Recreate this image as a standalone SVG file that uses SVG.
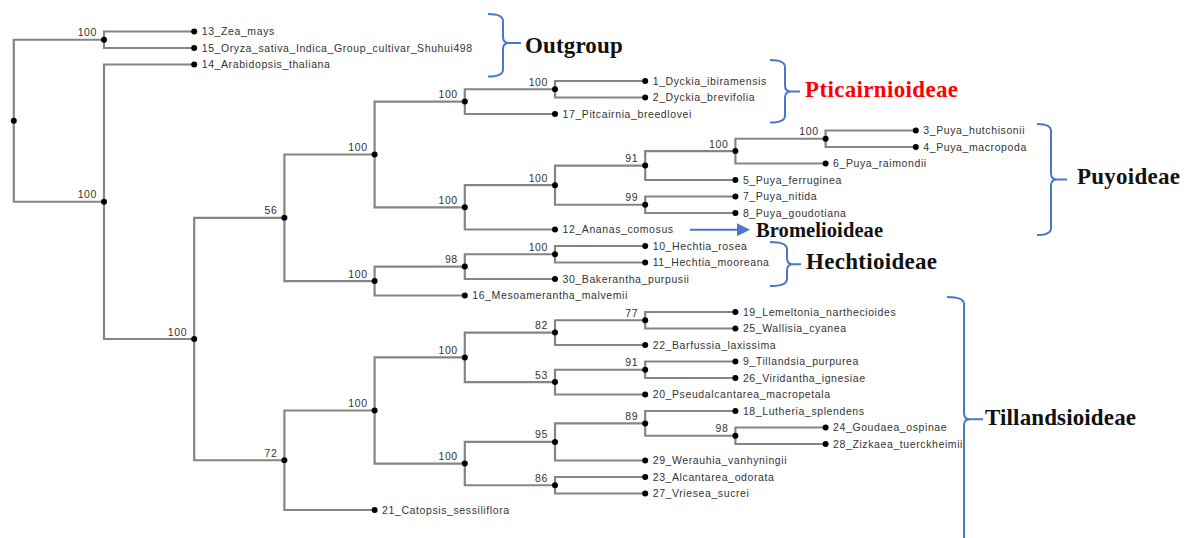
<svg xmlns="http://www.w3.org/2000/svg" width="1191" height="538" viewBox="0 0 1191 538">
  <style>
    .br { fill: none; stroke: #858585; stroke-width: 2.2; }
    .dot { fill: #000; }
    .tx { font-family: "Liberation Sans", Arial, sans-serif; font-size: 10.5px; letter-spacing: 0.6px; fill: #333; }
    .bs { text-anchor: end; }
    .brace { fill: none; stroke: #4a78c8; stroke-width: 2; }
    .clade { font-family: "Liberation Serif", "Times New Roman", serif; font-weight: bold; font-size: 23px; fill: #111; }
  </style>
  <defs>
    <marker id="arrowhead" viewBox="0 0 10 10" refX="0" refY="5" markerWidth="13" markerHeight="13" markerUnits="userSpaceOnUse" orient="auto">
      <path d="M0,0 L10,5 L0,10 Z" fill="#4a78c8"/>
    </marker>
  </defs>
  <rect width="1191" height="538" fill="#fff"/>

  <!-- tree branches -->
  <g id="connectors" class="br">
    <path d="M104,39.75 H13.8 V201.75 H104"/>
    <path d="M194.2,31.5 H104 V48 H194.2"/>
    <path d="M194.2,64.5 H104 V339 H194.2"/>
    <path d="M284.4,217.8 H194.2 V460.25 H284.4"/>
    <path d="M374.6,154.5 H284.4 V281.1 H374.6"/>
    <path d="M464.8,101.6 H374.6 V207.3 H464.8"/>
    <path d="M555,89.25 H464.8 V114 H555"/>
    <path d="M645.2,81 H555 V97.5 H645.2"/>
    <path d="M555,185.2 H464.8 V229.5 H555"/>
    <path d="M645.2,165.6 H555 V204.75 H645.2"/>
    <path d="M735.4,151.1 H645.2 V180 H735.4"/>
    <path d="M825.6,138.75 H735.4 V163.5 H825.6"/>
    <path d="M915.8,130.5 H825.6 V147 H915.8"/>
    <path d="M735.4,196.5 H645.2 V213 H735.4"/>
    <path d="M464.8,266.6 H374.6 V295.5 H464.8"/>
    <path d="M555,254.25 H464.8 V279 H555"/>
    <path d="M645.2,246 H555 V262.5 H645.2"/>
    <path d="M374.6,410.5 H284.4 V510 H374.6"/>
    <path d="M464.8,357.4 H374.6 V463.6 H464.8"/>
    <path d="M555,332.6 H464.8 V382.1 H555"/>
    <path d="M645.2,320.25 H555 V345 H645.2"/>
    <path d="M735.4,312 H645.2 V328.5 H735.4"/>
    <path d="M645.2,369.75 H555 V394.5 H645.2"/>
    <path d="M735.4,361.5 H645.2 V378 H735.4"/>
    <path d="M555,441.9 H464.8 V485.25 H555"/>
    <path d="M645.2,423.4 H555 V460.5 H645.2"/>
    <path d="M735.4,411 H645.2 V435.75 H735.4"/>
    <path d="M825.6,427.5 H735.4 V444 H825.6"/>
    <path d="M645.2,477 H555 V493.5 H645.2"/>
  </g>

  <!-- internal nodes with bootstrap support -->
  <g id="root"><circle class="dot" cx="13.8" cy="120.75" r="3"/></g>
  <g id="n-outgroup"><circle class="dot" cx="104" cy="39.75" r="3"/><text class="tx bs" x="97" y="36.3">100</text></g>
  <g id="n-ingroup"><circle class="dot" cx="104" cy="201.75" r="3"/><text class="tx bs" x="97" y="198.3">100</text></g>
  <g id="n-bromeliaceae"><circle class="dot" cx="194.2" cy="339" r="3"/><text class="tx bs" x="187.2" y="335.5">100</text></g>
  <g id="n-56"><circle class="dot" cx="284.4" cy="217.8" r="3"/><text class="tx bs" x="277.4" y="214.3">56</text></g>
  <g id="n-upper"><circle class="dot" cx="374.6" cy="154.5" r="3"/><text class="tx bs" x="367.6" y="151">100</text></g>
  <g id="n-pitcairnia"><circle class="dot" cx="464.8" cy="101.6" r="3"/><text class="tx bs" x="457.8" y="98.1">100</text></g>
  <g id="n-dyckia"><circle class="dot" cx="555" cy="89.25" r="3"/><text class="tx bs" x="548" y="85.8">100</text></g>
  <g id="n-puya-ananas"><circle class="dot" cx="464.8" cy="207.3" r="3"/><text class="tx bs" x="457.8" y="203.8">100</text></g>
  <g id="n-puya"><circle class="dot" cx="555" cy="185.2" r="3"/><text class="tx bs" x="548" y="181.7">100</text></g>
  <g id="n-puya-91"><circle class="dot" cx="645.2" cy="165.6" r="3"/><text class="tx bs" x="638.2" y="162.1">91</text></g>
  <g id="n-puya-100a"><circle class="dot" cx="735.4" cy="151.1" r="3"/><text class="tx bs" x="728.4" y="147.6">100</text></g>
  <g id="n-puya-100b"><circle class="dot" cx="825.6" cy="138.75" r="3"/><text class="tx bs" x="818.6" y="135.3">100</text></g>
  <g id="n-puya-99"><circle class="dot" cx="645.2" cy="204.75" r="3"/><text class="tx bs" x="638.2" y="201.3">99</text></g>
  <g id="n-lower"><circle class="dot" cx="374.6" cy="281.1" r="3"/><text class="tx bs" x="367.6" y="277.6">100</text></g>
  <g id="n-hechtia-98"><circle class="dot" cx="464.8" cy="266.6" r="3"/><text class="tx bs" x="457.8" y="263.1">98</text></g>
  <g id="n-hechtia"><circle class="dot" cx="555" cy="254.25" r="3"/><text class="tx bs" x="548" y="250.8">100</text></g>
  <g id="n-72"><circle class="dot" cx="284.4" cy="460.25" r="3"/><text class="tx bs" x="277.4" y="456.8">72</text></g>
  <g id="n-till-100c"><circle class="dot" cx="374.6" cy="410.5" r="3"/><text class="tx bs" x="367.6" y="407">100</text></g>
  <g id="n-till-100a"><circle class="dot" cx="464.8" cy="357.4" r="3"/><text class="tx bs" x="457.8" y="353.9">100</text></g>
  <g id="n-till-82"><circle class="dot" cx="555" cy="332.6" r="3"/><text class="tx bs" x="548" y="329.1">82</text></g>
  <g id="n-till-77"><circle class="dot" cx="645.2" cy="320.25" r="3"/><text class="tx bs" x="638.2" y="316.8">77</text></g>
  <g id="n-till-53"><circle class="dot" cx="555" cy="382.1" r="3"/><text class="tx bs" x="548" y="378.6">53</text></g>
  <g id="n-till-91"><circle class="dot" cx="645.2" cy="369.75" r="3"/><text class="tx bs" x="638.2" y="366.3">91</text></g>
  <g id="n-till-100b"><circle class="dot" cx="464.8" cy="463.6" r="3"/><text class="tx bs" x="457.8" y="460.1">100</text></g>
  <g id="n-till-95"><circle class="dot" cx="555" cy="441.9" r="3"/><text class="tx bs" x="548" y="438.4">95</text></g>
  <g id="n-till-89"><circle class="dot" cx="645.2" cy="423.4" r="3"/><text class="tx bs" x="638.2" y="419.9">89</text></g>
  <g id="n-till-98"><circle class="dot" cx="735.4" cy="435.75" r="3"/><text class="tx bs" x="728.4" y="432.3">98</text></g>
  <g id="n-till-86"><circle class="dot" cx="555" cy="485.25" r="3"/><text class="tx bs" x="548" y="481.8">86</text></g>

  <!-- leaves -->
  <g id="leaf-13"><circle class="dot" cx="194.2" cy="31.5" r="3"/><text class="tx" x="201.7" y="35.2">13_Zea_mays</text></g>
  <g id="leaf-15"><circle class="dot" cx="194.2" cy="48" r="3"/><text class="tx" x="201.7" y="51.7">15_Oryza_sativa_Indica_Group_cultivar_Shuhui498</text></g>
  <g id="leaf-14"><circle class="dot" cx="194.2" cy="64.5" r="3"/><text class="tx" x="201.7" y="68.2">14_Arabidopsis_thaliana</text></g>
  <g id="leaf-1"><circle class="dot" cx="645.2" cy="81" r="3"/><text class="tx" x="652.7" y="84.7">1_Dyckia_ibiramensis</text></g>
  <g id="leaf-2"><circle class="dot" cx="645.2" cy="97.5" r="3"/><text class="tx" x="652.7" y="101.2">2_Dyckia_brevifolia</text></g>
  <g id="leaf-17"><circle class="dot" cx="555" cy="114" r="3"/><text class="tx" x="562.5" y="117.7">17_Pitcairnia_breedlovei</text></g>
  <g id="leaf-3"><circle class="dot" cx="915.8" cy="130.5" r="3"/><text class="tx" x="923.3" y="134.2">3_Puya_hutchisonii</text></g>
  <g id="leaf-4"><circle class="dot" cx="915.8" cy="147" r="3"/><text class="tx" x="923.3" y="150.7">4_Puya_macropoda</text></g>
  <g id="leaf-6"><circle class="dot" cx="825.6" cy="163.5" r="3"/><text class="tx" x="833.1" y="167.2">6_Puya_raimondii</text></g>
  <g id="leaf-5"><circle class="dot" cx="735.4" cy="180" r="3"/><text class="tx" x="742.9" y="183.7">5_Puya_ferruginea</text></g>
  <g id="leaf-7"><circle class="dot" cx="735.4" cy="196.5" r="3"/><text class="tx" x="742.9" y="200.2">7_Puya_nitida</text></g>
  <g id="leaf-8"><circle class="dot" cx="735.4" cy="213" r="3"/><text class="tx" x="742.9" y="216.7">8_Puya_goudotiana</text></g>
  <g id="leaf-12"><circle class="dot" cx="555" cy="229.5" r="3"/><text class="tx" x="562.5" y="233.2">12_Ananas_comosus</text></g>
  <g id="leaf-10"><circle class="dot" cx="645.2" cy="246" r="3"/><text class="tx" x="652.7" y="249.7">10_Hechtia_rosea</text></g>
  <g id="leaf-11"><circle class="dot" cx="645.2" cy="262.5" r="3"/><text class="tx" x="652.7" y="266.2">11_Hechtia_mooreana</text></g>
  <g id="leaf-30"><circle class="dot" cx="555" cy="279" r="3"/><text class="tx" x="562.5" y="282.7">30_Bakerantha_purpusii</text></g>
  <g id="leaf-16"><circle class="dot" cx="464.8" cy="295.5" r="3"/><text class="tx" x="472.3" y="299.2">16_Mesoamerantha_malvemii</text></g>
  <g id="leaf-19"><circle class="dot" cx="735.4" cy="312" r="3"/><text class="tx" x="742.9" y="315.7">19_Lemeltonia_narthecioides</text></g>
  <g id="leaf-25"><circle class="dot" cx="735.4" cy="328.5" r="3"/><text class="tx" x="742.9" y="332.2">25_Wallisia_cyanea</text></g>
  <g id="leaf-22"><circle class="dot" cx="645.2" cy="345" r="3"/><text class="tx" x="652.7" y="348.7">22_Barfussia_laxissima</text></g>
  <g id="leaf-9"><circle class="dot" cx="735.4" cy="361.5" r="3"/><text class="tx" x="742.9" y="365.2">9_Tillandsia_purpurea</text></g>
  <g id="leaf-26"><circle class="dot" cx="735.4" cy="378" r="3"/><text class="tx" x="742.9" y="381.7">26_Viridantha_ignesiae</text></g>
  <g id="leaf-20"><circle class="dot" cx="645.2" cy="394.5" r="3"/><text class="tx" x="652.7" y="398.2">20_Pseudalcantarea_macropetala</text></g>
  <g id="leaf-18"><circle class="dot" cx="735.4" cy="411" r="3"/><text class="tx" x="742.9" y="414.7">18_Lutheria_splendens</text></g>
  <g id="leaf-24"><circle class="dot" cx="825.6" cy="427.5" r="3"/><text class="tx" x="833.1" y="431.2">24_Goudaea_ospinae</text></g>
  <g id="leaf-28"><circle class="dot" cx="825.6" cy="444" r="3"/><text class="tx" x="833.1" y="447.7">28_Zizkaea_tuerckheimii</text></g>
  <g id="leaf-29"><circle class="dot" cx="645.2" cy="460.5" r="3"/><text class="tx" x="652.7" y="464.2">29_Werauhia_vanhyningii</text></g>
  <g id="leaf-23"><circle class="dot" cx="645.2" cy="477" r="3"/><text class="tx" x="652.7" y="480.7">23_Alcantarea_odorata</text></g>
  <g id="leaf-27"><circle class="dot" cx="645.2" cy="493.5" r="3"/><text class="tx" x="652.7" y="497.2">27_Vriesea_sucrei</text></g>
  <g id="leaf-21"><circle class="dot" cx="374.6" cy="510" r="3"/><text class="tx" x="382.1" y="513.7">21_Catopsis_sessiliflora</text></g>

  <!-- subfamily annotations -->
  <g id="clade-outgroup">
    <path class="brace" d="M488,14 Q503,14 503,21 V37 Q503,43 509,43 H521 M509,43 Q503,43 503,49 V69.5 Q503,76.5 488,76.5"/>
    <text class="clade" x="525" y="52.7" textLength="97.7">Outgroup</text>
  </g>
  <g id="clade-pitcairnioideae">
    <path class="brace" d="M770,60 Q785,60 785,67 V85.5 Q785,91.5 791,91.5 H800 M791,91.5 Q785,91.5 785,97.5 V115.5 Q785,122.5 770,122.5"/>
    <text class="clade" x="805" y="97.3" textLength="153" fill="#ff0000" style="fill:#ff0000">Pticairnioideae</text>
  </g>
  <g id="clade-puyoideae">
    <path class="brace" d="M1037,124 Q1051,124 1051,131 V173.5 Q1051,179.5 1057,179.5 H1067 M1057,179.5 Q1051,179.5 1051,185.5 V228 Q1051,235 1037,235"/>
    <text class="clade" x="1077" y="184" textLength="103">Puyoideae</text>
  </g>
  <g id="clade-bromelioideae">
    <line x1="690" y1="229.7" x2="737" y2="229.7" stroke="#4a78c8" stroke-width="2" marker-end="url(#arrowhead)"/>
    <text class="clade" x="756" y="236.7" style="font-size:20.5px" textLength="127">Bromelioideae</text>
  </g>
  <g id="clade-hechtioideae">
    <path class="brace" d="M770,242 Q787,242 787,249 V258.3 Q787,264.3 793,264.3 H801 M793,264.3 Q787,264.3 787,270.3 V279 Q787,286 770,286"/>
    <text class="clade" x="806" y="269.3" textLength="131">Hechtioideae</text>
  </g>
  <g id="clade-tillandsioideae">
    <path class="brace" d="M947,297 Q964,297 964,304 V413.3 Q964,419.3 970,419.3 H983 M970,419.3 Q964,419.3 964,425.3 V560"/>
    <text class="clade" x="985" y="424.5" textLength="151">Tillandsioideae</text>
  </g>
</svg>
